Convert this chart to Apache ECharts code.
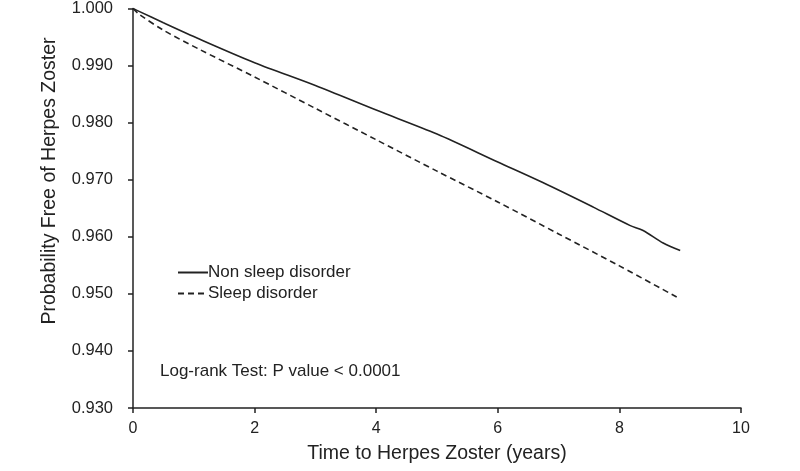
<!DOCTYPE html>
<html><head><meta charset="utf-8">
<script src="https://cdn.jsdelivr.net/npm/echarts@6/dist/echarts.min.js"></script>
<style>html,body{margin:0;padding:0;background:#fff}#c{width:800px;height:471px}</style>
</head><body><div id="c"></div>
<script>
const nonTimes  = [0, 0.1, 0.5, 1.1, 2, 3, 4, 5, 6, 6.74, 7.57, 8.17, 8.39, 8.72, 9.0];
const nonValues = [1.000, 0.9995, 0.9975, 0.9946, 0.9905, 0.9865, 0.9822, 0.9780, 0.9731, 0.9695, 0.9652, 0.9620, 0.9611, 0.9589, 0.9576];
const sleepTimes  = [0, 0.1, 0.5, 1.1, 2, 3, 4, 5, 6, 7, 8, 8.95];
const sleepValues = [1.000, 0.9990, 0.9962, 0.9928, 0.9880, 0.9825, 0.9770, 0.9715, 0.9661, 0.9605, 0.9549, 0.9494];
const xTicks = [0, 2, 4, 6, 8, 10];
const yMin = 0.93, yMax = 1.0, yStep = 0.01;
const seriesNames = ['Non sleep disorder', 'Sleep disorder'];
const xName = 'Time to Herpes Zoster (years)';
const yName = 'Probability Free of Herpes Zoster';
const note = 'Log-rank Test: P value < 0.0001';

const font = 'Liberation Sans, Arial, sans-serif';
const ink = '#222';
const chart = echarts.init(document.getElementById('c'));
chart.setOption({
  animation: false,
  backgroundColor: '#fff',
  textStyle: {fontFamily: font},
  grid: {left: 133, right: 59, top: 8, bottom: 63},
  legend: {
    orient: 'vertical', left: 172, top: 259, itemGap: 4,
    itemWidth: 30, itemHeight: 14,
    itemStyle: {color: 'transparent', borderColor: 'transparent', borderWidth: 0},
    textStyle: {fontFamily: font, fontSize: 17, color: ink, padding: [0,0,0,-5]},
    data: seriesNames
  },
  xAxis: {
    type: 'value', min: 0, max: 10, interval: 2,
    name: xName, nameLocation: 'middle', nameGap: 36,
    nameTextStyle: {fontSize: 19.5, color: ink, fontFamily: font},
    axisLine: {lineStyle: {color: ink, width: 1.5}},
    axisTick: {show: true, length: 5, lineStyle: {color: ink, width: 1.5}},
    axisLabel: {fontSize: 16, color: ink, margin: 13, fontFamily: font,
      formatter: v => xTicks.includes(v) ? String(v) : ''},
    splitLine: {show: false}
  },
  yAxis: {
    type: 'value', min: yMin, max: yMax, interval: yStep,
    axisLine: {show: true, lineStyle: {color: ink, width: 1.5}},
    axisTick: {show: true, length: 5, lineStyle: {color: ink, width: 1.5}},
    axisLabel: {fontSize: 16.5, color: ink, margin: 20, fontFamily: font,
      formatter: v => v.toFixed(3)},
    splitLine: {show: false}
  },
  series: [
    {name: seriesNames[0], type: 'line', showSymbol: false, symbol: 'none', smooth: 0.3,
     lineStyle: {color: ink, width: 1.6, type: 'solid'}, itemStyle: {color: ink},
     data: nonTimes.map((t, i) => [t, nonValues[i]])},
    {name: seriesNames[1], type: 'line', showSymbol: false, symbol: 'none', smooth: 0.3,
     lineStyle: {color: ink, width: 1.6, type: [6, 4]}, itemStyle: {color: ink},
     data: sleepTimes.map((t, i) => [t, sleepValues[i]])}
  ],
  graphic: [
    {type: 'text', x: 50, y: 181, rotation: Math.PI / 2,
     style: {text: yName, font: '19.5px ' + font, fill: ink, align: 'center', verticalAlign: 'middle'}},
    {type: 'text', left: 160, top: 363,
     style: {text: note, font: '17px ' + font, fill: ink}}
  ]
});
</script></body></html>
